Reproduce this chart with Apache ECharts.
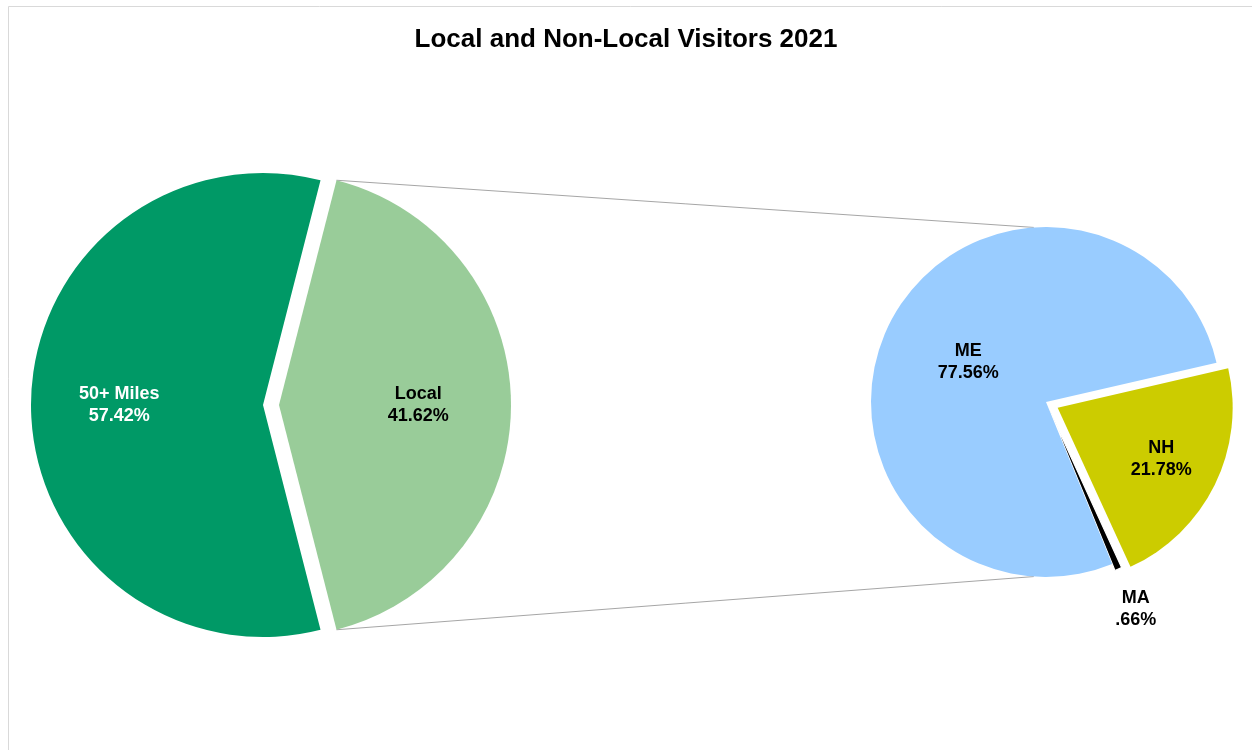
<!DOCTYPE html>
<html>
<head>
<meta charset="utf-8">
<title>Local and Non-Local Visitors 2021</title>
<script src="https://cdn.jsdelivr.net/npm/echarts@6/dist/echarts.min.js"></script>
<style>
  html, body { margin: 0; padding: 0; background: #ffffff; }
  #chart { width: 1252px; height: 750px; }
</style>
</head>
<body>
<div id="chart"></div>
<script>
const titleText = 'Local and Non-Local Visitors 2021';

// Where visitors came from (share of all visitors, %)
const originNames = ['Local', '50+ Miles'];
const originShares = [41.62, 57.42];
const originColors = ['#99CC99', '#009966'];
const originLabelColors = ['#000000', '#ffffff'];

// Local visitors broken down by home state (%)
const stateNames = ['NH', 'MA', 'ME'];
const stateShares = [21.78, 0.66, 77.56];
const stateColors = ['#CCCC00', '#000000', '#99CCFF'];
const stateLabelColors = ['#000000', '#000000', '#000000'];

const FONT = '"Liberation Sans", Arial, Helvetica, sans-serif';
const CLEAR = 'rgba(0,0,0,0)';

// pie placement, rotation, how far each slice is pulled out and its white edge
const leftPie = {
  center: [263, 405], radius: 232,
  explode: [16, 0], edge: [0, 0], labelDist: [0.6, 0.62]
};
const rightPie = {
  center: [1046, 402], radius: 175, startAngle: 13,
  explode: [13, 7, 0], edge: [0, 1.2, 0], labelDist: [0.66, 1.25, 0.5]
};
// the local slice is centred on 3 o'clock
leftPie.startAngle = 180 * originShares[0] / originShares.reduce((a, b) => a + b, 0);

const pctText = v => v.toFixed(2).replace(/^0\./, '.') + '%';

const chart = echarts.init(document.getElementById('chart'), null, { renderer: 'canvas' });

// bisector angle (degrees, counter-clockwise from 3 o'clock) of slice i in a clockwise pie
function midAngle(values, i, startAngle) {
  const total = values.reduce((a, b) => a + b, 0);
  const before = values.slice(0, i).reduce((a, b) => a + b, 0);
  return startAngle - 360 * (before + values[i] / 2) / total;
}

// put each label on its slice's bisector at a fraction of the radius
function bisectorLabel(distances) {
  return function (p) {
    const lay = chart.getModel().getSeriesByIndex(p.seriesIndex).getData().getItemLayout(p.dataIndex);
    const mid = (lay.startAngle + lay.endAngle) / 2;
    const d = distances[p.dataIndex] * lay.r;
    return {
      x: lay.cx + d * Math.cos(mid),
      y: lay.cy + d * Math.sin(mid),
      align: 'center',
      verticalAlign: 'middle'
    };
  };
}

// one pie layer per slice so every slice can be pulled out along its own bisector
function sliceLayer(pie, names, values, colors, labelColors, k) {
  const a = midAngle(values, k, pie.startAngle) * Math.PI / 180;
  const off = pie.explode[k];
  return {
    name: names[k],
    type: 'pie',
    center: [pie.center[0] + off * Math.cos(a), pie.center[1] - off * Math.sin(a)],
    radius: pie.radius,
    startAngle: pie.startAngle,
    clockwise: true,
    avoidLabelOverlap: false,
    silent: true,
    emphasis: { disabled: true },
    labelLine: { show: false },
    label: {
      show: true,
      position: 'inside',
      fontFamily: FONT,
      fontSize: 18,
      fontWeight: 'bold',
      lineHeight: 22,
      align: 'center',
      formatter: p => p.name + '\n' + pctText(p.value)
    },
    labelLayout: bisectorLabel(pie.labelDist),
    data: names.map((n, i) => ({
      name: n,
      value: values[i],
      itemStyle: i === k
        ? { color: colors[i], borderColor: '#ffffff', borderWidth: pie.edge[i] }
        : { color: CLEAR, borderWidth: 0 },
      label: { show: i === k, color: labelColors[i] }
    }))
  };
}

const series = [];
originNames.forEach((n, k) => series.push(sliceLayer(leftPie, originNames, originShares, originColors, originLabelColors, k)));
stateNames.forEach((n, k) => series.push(sliceLayer(rightPie, stateNames, stateShares, stateColors, stateLabelColors, k)));

chart.setOption({
  animation: false,
  backgroundColor: '#ffffff',
  title: {
    text: titleText,
    left: 'center',
    top: 22,
    textStyle: { fontFamily: FONT, fontSize: 26, fontWeight: 'bold', color: '#000000', lineHeight: 26 }
  },
  series: series
});

// connector lines from the pulled-out local slice to the top and bottom of the state pie
(function drawConnectors() {
  const model = chart.getModel();
  const localLay = model.getSeriesByIndex(0).getData().getItemLayout(0);
  const stateLay = model.getSeriesByIndex(originNames.length + stateNames.length - 1).getData().getItemLayout(0);
  const corner = a => [localLay.cx + localLay.r * Math.cos(a), localLay.cy + localLay.r * Math.sin(a)];
  const tilt = 4 * Math.PI / 180;
  const rim = a => [stateLay.cx + stateLay.r * Math.cos(a), stateLay.cy + stateLay.r * Math.sin(a)];
  const topA = corner(localLay.startAngle);
  const botA = corner(localLay.endAngle);
  const topB = rim(-Math.PI / 2 - tilt);
  const botB = rim(Math.PI / 2 + tilt);
  const lineStyle = { stroke: '#a6a6a6', lineWidth: 1 };
  chart.setOption({
    graphic: [
      {
        type: 'rect', silent: true, z: -1,
        shape: { x: 8.5, y: 6.5, width: 1300, height: 800 },
        style: { fill: null, stroke: '#d9d9d9', lineWidth: 1 }
      },
      { type: 'line', silent: true, z: -1, shape: { x1: topA[0], y1: topA[1], x2: topB[0], y2: topB[1] }, style: lineStyle },
      { type: 'line', silent: true, z: -1, shape: { x1: botA[0], y1: botA[1], x2: botB[0], y2: botB[1] }, style: lineStyle }
    ]
  });
})();
</script>
</body>
</html>
